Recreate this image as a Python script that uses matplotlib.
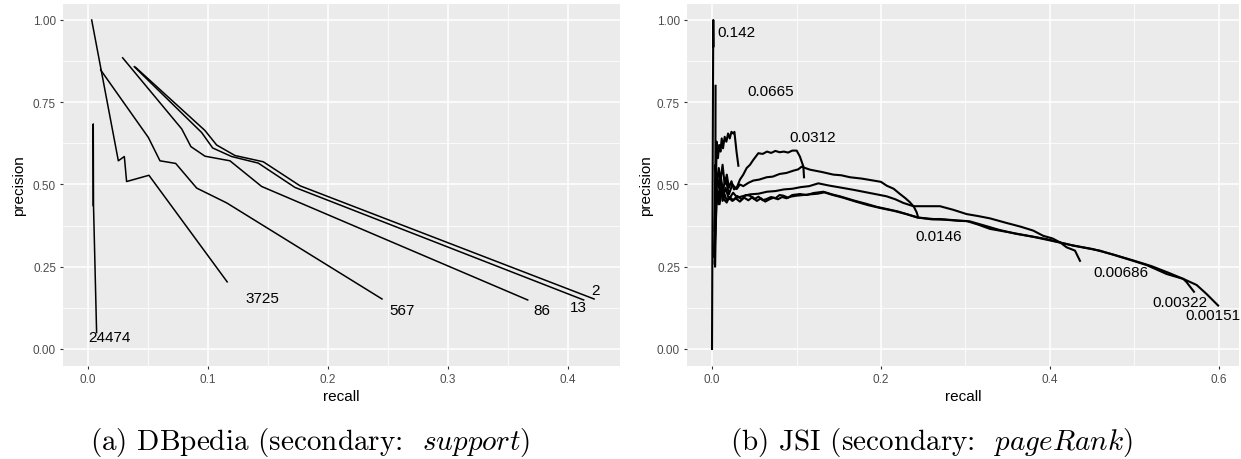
import numpy as np
import matplotlib
matplotlib.use("Agg")
import matplotlib.pyplot as plt
from matplotlib.ticker import MultipleLocator, FormatStrFormatter

plt.rcParams['font.family'] = ['Liberation Sans', 'DejaVu Sans']
plt.rcParams['mathtext.fontset'] = 'cm'

# ---- (a) DBpedia: one PR curve per support threshold ----
dbp_names = ["24474", "3725", "567", "86", "13", "2"]
dbp_recall = [
    [0.0044, 0.0044, 0.0046, 0.0072],
    [0.0031, 0.0253, 0.0303, 0.0322, 0.0508, 0.1160],
    [0.0106, 0.0503, 0.0600, 0.0731, 0.0906, 0.1156, 0.2450],
    [0.0289, 0.0781, 0.0858, 0.0975, 0.1183, 0.1447, 0.3664],
    [0.0386, 0.0947, 0.1039, 0.1197, 0.1419, 0.1725, 0.4130],
    [0.0397, 0.0975, 0.1072, 0.1225, 0.1461, 0.1767, 0.4217],
]
dbp_precision = [
    [0.436, 0.684, 0.440, 0.050],
    [1.000, 0.572, 0.585, 0.509, 0.528, 0.204],
    [0.848, 0.643, 0.572, 0.564, 0.489, 0.444, 0.152],
    [0.885, 0.669, 0.615, 0.586, 0.572, 0.494, 0.149],
    [0.858, 0.658, 0.611, 0.585, 0.565, 0.491, 0.149],
    [0.856, 0.664, 0.620, 0.588, 0.569, 0.496, 0.152],
]

# ---- (b) JSI: one PR curve per pageRank threshold ----
jsi_names = ["0.142", "0.0665", "0.0312", "0.0146", "0.00686", "0.00322", "0.00151"]
jsi_recall = [
    [0.0, 0.0005, 0.0010, 0.0015, 0.0018],
    [0.0042, 0.0040, 0.0036, 0.0045, 0.0055, 0.0070, 0.0085, 0.0100, 0.0115, 0.0130,
     0.0150, 0.0170, 0.0190, 0.0210, 0.0230, 0.0252, 0.0265, 0.0290, 0.0312],
    [0.0025, 0.0040, 0.0060, 0.0080, 0.0100, 0.0125, 0.0150, 0.0175, 0.0200, 0.0230,
     0.0260, 0.0292, 0.0331, 0.0370, 0.0410, 0.0450, 0.0489, 0.0548, 0.0600, 0.0650,
     0.0700, 0.0750, 0.0800, 0.0850, 0.0900, 0.0950, 0.1002, 0.1040, 0.1081, 0.1089],
    [0.0030, 0.0050, 0.0075, 0.0100, 0.0130, 0.0160, 0.0200, 0.0240, 0.0292, 0.0330,
     0.0370, 0.0430, 0.0489, 0.0560, 0.0647, 0.0720, 0.0800, 0.0880, 0.0963, 0.1020,
     0.1060, 0.1081, 0.1160, 0.1300, 0.1436, 0.1530, 0.1633, 0.1770, 0.1910, 0.2000,
     0.2067, 0.2150, 0.2225, 0.2290, 0.2343, 0.2390, 0.2422, 0.2440],
    [0.0030, 0.0050, 0.0075, 0.0100, 0.0130, 0.0160, 0.0200, 0.0250, 0.0300, 0.0370,
     0.0450, 0.0550, 0.0650, 0.0750, 0.0850, 0.0950, 0.1050, 0.1150, 0.1258, 0.1380,
     0.1515, 0.1670, 0.1830, 0.1950, 0.2067, 0.2170, 0.2264, 0.2383, 0.2500, 0.2698,
     0.2856, 0.3014, 0.3150, 0.3290, 0.3487, 0.3650, 0.3800, 0.3920, 0.4030, 0.4120,
     0.4197, 0.4296, 0.4355],
    [0.0030, 0.0050, 0.0075, 0.0100, 0.0125, 0.0150, 0.0174, 0.0210, 0.0250, 0.0300,
     0.0350, 0.0400, 0.0450, 0.0500, 0.0550, 0.0600, 0.0647, 0.0700, 0.0750, 0.0800,
     0.0844, 0.0900, 0.0950, 0.1041, 0.1120, 0.1200, 0.1318, 0.1420, 0.1515, 0.1670,
     0.1830, 0.1950, 0.2067, 0.2200, 0.2304, 0.2422, 0.2619, 0.2700, 0.2935, 0.3014,
     0.3150, 0.3290, 0.3487, 0.3680, 0.3960, 0.4276, 0.4590, 0.4908, 0.5144, 0.5380,
     0.5578, 0.5617, 0.5704],
    [0.0030, 0.0060, 0.0090, 0.0115, 0.0140, 0.0174, 0.0200, 0.0240, 0.0280, 0.0330,
     0.0380, 0.0430, 0.0480, 0.0530, 0.0580, 0.0630, 0.0680, 0.0730, 0.0780, 0.0830,
     0.0880, 0.0930, 0.1000, 0.1080, 0.1160, 0.1250, 0.1330, 0.1430, 0.1550, 0.1700,
     0.1850, 0.2000, 0.2150, 0.2300, 0.2450, 0.2600, 0.2750, 0.2900, 0.3050, 0.3200,
     0.3400, 0.3600, 0.3800, 0.4000, 0.4250, 0.4500, 0.4750, 0.5000, 0.5200, 0.5400,
     0.5578, 0.5736, 0.5854, 0.5990],
]
jsi_precision = [
    [0.0, 0.35, 0.70, 1.0, 0.92],
    [0.80, 0.52, 0.25, 0.48, 0.63, 0.58, 0.62, 0.60, 0.64, 0.61,
     0.645, 0.63, 0.655, 0.64, 0.66, 0.655, 0.66, 0.60, 0.557],
    [0.28, 0.56, 0.50, 0.55, 0.51, 0.56, 0.50, 0.53, 0.49, 0.51,
     0.485, 0.49, 0.515, 0.53, 0.55, 0.56, 0.575, 0.595, 0.593, 0.600,
     0.596, 0.602, 0.598, 0.600, 0.597, 0.603, 0.603, 0.585, 0.555, 0.522],
    [0.36, 0.54, 0.49, 0.53, 0.48, 0.52, 0.47, 0.50, 0.486, 0.50,
     0.495, 0.505, 0.512, 0.515, 0.522, 0.524, 0.532, 0.535, 0.542, 0.546,
     0.554, 0.552, 0.545, 0.538, 0.530, 0.528, 0.522, 0.518, 0.512, 0.508,
     0.4965, 0.487, 0.471, 0.458, 0.4458, 0.432, 0.4154, 0.400],
    [0.30, 0.50, 0.45, 0.52, 0.46, 0.49, 0.455, 0.475, 0.46, 0.465,
     0.47, 0.472, 0.478, 0.480, 0.485, 0.487, 0.492, 0.495, 0.5035, 0.497,
     0.491, 0.484, 0.476, 0.470, 0.464, 0.455, 0.444, 0.434, 0.434, 0.434,
     0.423, 0.410, 0.404, 0.397, 0.383, 0.372, 0.360, 0.344, 0.336, 0.324,
     0.309, 0.299, 0.268],
    [0.26, 0.48, 0.44, 0.50, 0.45, 0.47, 0.451, 0.462, 0.452, 0.465,
     0.455, 0.468, 0.466, 0.455, 0.463, 0.452, 0.456, 0.462, 0.458, 0.468,
     0.466, 0.460, 0.468, 0.471, 0.468, 0.474, 0.478, 0.470, 0.464, 0.452,
     0.441, 0.432, 0.4255, 0.418, 0.410, 0.400, 0.395, 0.395, 0.390, 0.389,
     0.378, 0.365, 0.356, 0.347, 0.334, 0.314, 0.299, 0.274, 0.255, 0.228,
     0.213, 0.203, 0.174],
    [0.30, 0.47, 0.44, 0.49, 0.455, 0.445, 0.46, 0.45, 0.458, 0.448,
     0.46, 0.452, 0.462, 0.450, 0.458, 0.448, 0.455, 0.460, 0.455, 0.462,
     0.458, 0.463, 0.466, 0.468, 0.470, 0.472, 0.476, 0.468, 0.460, 0.448,
     0.437, 0.428, 0.420, 0.410, 0.399, 0.394, 0.393, 0.390, 0.388, 0.377,
     0.362, 0.350, 0.341, 0.330, 0.316, 0.304, 0.287, 0.268, 0.252, 0.232,
     0.213, 0.1945, 0.167, 0.132],
]

# where the threshold labels sit
dbp_label_xy = [(0.0183, 0.036), (0.1454, 0.155), (0.2617, 0.1185),
                (0.3783, 0.1185), (0.4086, 0.1266), (0.4232, 0.180)]
jsi_label_xy = [(0.0288, 0.965), (0.0692, 0.785), (0.119, 0.645), (0.2687, 0.344),
                (0.484, 0.235), (0.5538, 0.142), (0.593, 0.1033)]


def style_gg(ax, xmajor, xminor, ymajor, yminor, xfmt):
    ax.set_facecolor("#EBEBEB")
    for s in ax.spines.values():
        s.set_visible(False)
    ax.xaxis.set_major_locator(MultipleLocator(xmajor))
    ax.xaxis.set_minor_locator(MultipleLocator(xminor))
    ax.yaxis.set_major_locator(MultipleLocator(ymajor))
    ax.yaxis.set_minor_locator(MultipleLocator(yminor))
    ax.xaxis.set_major_formatter(FormatStrFormatter(xfmt))
    ax.yaxis.set_major_formatter(FormatStrFormatter("%.2f"))
    ax.grid(True, which="major", color="white", lw=1.1)
    ax.grid(True, which="minor", color="white", lw=0.55)
    ax.set_axisbelow(True)
    ax.tick_params(which="major", length=2.5, width=0.8, color="#333333",
                   labelsize=8.5, labelcolor="#4D4D4D", pad=2.5)
    ax.tick_params(which="minor", length=0)
    ax.set_xlabel("recall", fontsize=11, va="center")
    ax.set_ylabel("precision", fontsize=11, va="center")


fig = plt.figure(figsize=(12.41, 4.60), dpi=100)
H, W = 460, 1241
ax1 = fig.add_axes([63 / W, 1 - 367 / H, 557 / W, 362 / H])
ax2 = fig.add_axes([687 / W, 1 - 367 / H, 552 / W, 362 / H])

for r, p in zip(dbp_recall, dbp_precision):
    ax1.plot(r, p, color="black", lw=1.1)
for name, (lx, ly) in zip(dbp_names, dbp_label_xy):
    ax1.text(lx, ly, name, fontsize=11, ha="center", va="center")
ax1.set_xlim(-0.0208, 0.4433)
ax1.set_ylim(-0.0517, 1.0486)
style_gg(ax1, 0.1, 0.05, 0.25, 0.125, "%.1f")
ax1.xaxis.set_label_coords(0.5, -30 / 362)
ax1.yaxis.set_label_coords(-44 / 557, 0.5)

for r, p in zip(jsi_recall, jsi_precision):
    ax2.plot(r, p, color="black", lw=1.5)
for name, (lx, ly) in zip(jsi_names, jsi_label_xy):
    ax2.text(lx, ly, name, fontsize=11, ha="center", va="center")
ax2.set_xlim(-0.0296, 0.6237)
ax2.set_ylim(-0.0517, 1.0486)
style_gg(ax2, 0.2, 0.1, 0.25, 0.125, "%.1f")
ax2.xaxis.set_label_coords(0.5, -30 / 362)
ax2.yaxis.set_label_coords(-41 / 552, 0.5)

# LaTeX-style subcaptions (Computer Modern, italic secondary measure)
fig.text(310 / W, 1 - 443 / H, r"(a) DBpedia (secondary:  $\mathit{support}$)",
         fontsize=21, family="cmr10", ha="center", va="center")
fig.text(931 / W, 1 - 443 / H, r"(b) JSI (secondary:  $\mathit{pageRank}$)",
         fontsize=21, family="cmr10", ha="center", va="center")

fig.savefig("out.png", dpi=100)
